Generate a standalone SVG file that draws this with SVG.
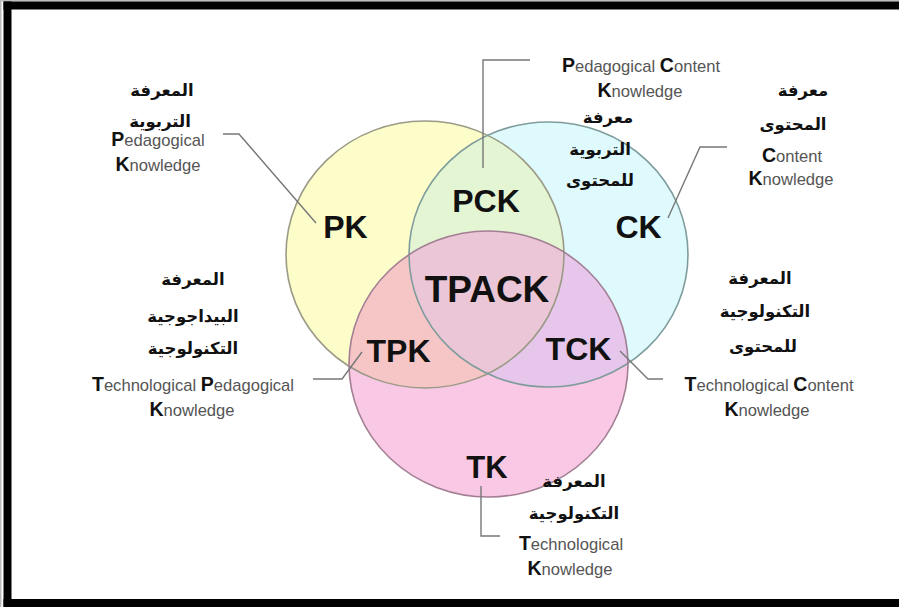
<svg xmlns="http://www.w3.org/2000/svg" width="899" height="607" viewBox="0 0 899 607">
  <style>
    .frame { fill: #000; }
    .big { font-family: "Liberation Sans", Arial, sans-serif; font-weight: bold; font-size: 32px; fill: #111; text-anchor: middle; }
    .ar { font-family: "DejaVu Sans", "Noto Sans", sans-serif; font-weight: bold; font-size: 16.5px; fill: #111; text-anchor: middle; }
    .en { font-family: "Liberation Sans", Arial, sans-serif; font-size: 16.6px; fill: #555; text-anchor: middle; }
    .cap { font-weight: bold; font-size: 19.5px; fill: #111; }
    .conn { fill: none; stroke: #777; stroke-width: 1.4; }
    .ring { fill: none; stroke-width: 1.6; }
  </style>
  <defs>
    <ellipse id="eP" cx="425" cy="254.5" rx="139" ry="133.5"/>
    <ellipse id="eC" cx="548.5" cy="254.5" rx="139.5" ry="132.5"/>
    <ellipse id="eT" cx="488.5" cy="364" rx="139.5" ry="133"/>
    <clipPath id="clipP"><use href="#eP"/></clipPath>
    <clipPath id="clipC"><use href="#eC"/></clipPath>
  </defs>

  <rect width="899" height="607" fill="#fff"/>
  <!-- frame -->
  <rect x="0" y="0" width="899" height="1.5" fill="#bbb"/>
  <rect x="0" y="0" width="1.5" height="607" fill="#bbb"/>
  <rect class="frame" x="3.5" y="1.5" width="895.5" height="8"/>
  <rect class="frame" x="3.5" y="1.5" width="8" height="605.5"/>
  <rect class="frame" x="3.5" y="599" width="895.5" height="8"/>

  <!-- circle fills -->
  <g id="fills">
    <use href="#eP" fill="#FDFDC9"/>
    <use href="#eC" fill="#DEFAFC"/>
    <use href="#eT" fill="#F9C8E4"/>
    <g clip-path="url(#clipP)"><use href="#eC" fill="#E3F5D3"/></g>
    <g clip-path="url(#clipP)"><use href="#eT" fill="#F6C6C6"/></g>
    <g clip-path="url(#clipC)"><use href="#eT" fill="#E6C6EA"/></g>
    <g clip-path="url(#clipP)"><g clip-path="url(#clipC)"><use href="#eT" fill="#EAC6D6"/></g></g>
  </g>

  <g id="PK">
    <use href="#eP" class="ring" stroke="#9a9a86"/>
    <text class="big" x="345.5" y="238">PK</text>
  </g>
  <g id="CK">
    <use href="#eC" class="ring" stroke="#7f9c9c"/>
    <text class="big" x="638.5" y="238">CK</text>
  </g>
  <g id="TK">
    <use href="#eT" class="ring" stroke="#a27f93"/>
    <text class="big" x="487" y="478" style="font-size:31px">TK</text>
  </g>
  <g id="PCK"><text class="big" x="486" y="212">PCK</text></g>
  <g id="TPK"><text class="big" x="398.5" y="362">TPK</text></g>
  <g id="TCK"><text class="big" x="578.5" y="360">TCK</text></g>
  <g id="TPACK"><text class="big" x="487" y="302" style="font-size:37px">TPACK</text></g>

  <g id="connectors">
    <polyline class="conn" points="223,134 239,134 316,223"/>
    <polyline class="conn" points="530,60 483,60 483,168"/>
    <polyline class="conn" points="727,147 700,147 668,218"/>
    <polyline class="conn" points="313,379 342,379 362,352"/>
    <polyline class="conn" points="663,379 648,379 620,351"/>
    <polyline class="conn" points="481,486 481,536 500,536"/>
  </g>

  <g id="label-PK">
    <text class="ar" x="162" y="96">المعرفة</text>
    <text class="ar" x="160" y="127">التربوية</text>
    <text class="en" x="158" y="146"><tspan class="cap">P</tspan>edagogical</text>
    <text class="en" x="158" y="171"><tspan class="cap">K</tspan>nowledge</text>
  </g>
  <g id="label-PCK">
    <text class="en" x="641" y="72"><tspan class="cap">P</tspan>edagogical <tspan class="cap">C</tspan>ontent</text>
    <text class="en" x="640" y="97"><tspan class="cap">K</tspan>nowledge</text>
    <text class="ar" x="608" y="123">معرفة</text>
    <text class="ar" x="600" y="155">التربوية</text>
    <text class="ar" x="600" y="186">للمحتوى</text>
  </g>
  <g id="label-CK">
    <text class="ar" x="803" y="96">معرفة</text>
    <text class="ar" x="793" y="130">المحتوى</text>
    <text class="en" x="792" y="162"><tspan class="cap">C</tspan>ontent</text>
    <text class="en" x="791" y="185"><tspan class="cap">K</tspan>nowledge</text>
  </g>
  <g id="label-TPK">
    <text class="ar" x="193" y="285">المعرفة</text>
    <text class="ar" x="193" y="322">البيداجوجية</text>
    <text class="ar" x="193" y="354">التكنولوجية</text>
    <text class="en" x="193" y="391"><tspan class="cap">T</tspan>echnological <tspan class="cap">P</tspan>edagogical</text>
    <text class="en" x="192" y="416"><tspan class="cap">K</tspan>nowledge</text>
  </g>
  <g id="label-TCK">
    <text class="ar" x="760" y="284">المعرفة</text>
    <text class="ar" x="765" y="317">التكنولوجية</text>
    <text class="ar" x="763" y="352">للمحتوى</text>
    <text class="en" x="769" y="391"><tspan class="cap">T</tspan>echnological <tspan class="cap">C</tspan>ontent</text>
    <text class="en" x="767" y="416"><tspan class="cap">K</tspan>nowledge</text>
  </g>
  <g id="label-TK">
    <text class="ar" x="574" y="487">المعرفة</text>
    <text class="ar" x="574" y="519">التكنولوجية</text>
    <text class="en" x="571" y="550"><tspan class="cap">T</tspan>echnological</text>
    <text class="en" x="570" y="575"><tspan class="cap">K</tspan>nowledge</text>
  </g>
</svg>
